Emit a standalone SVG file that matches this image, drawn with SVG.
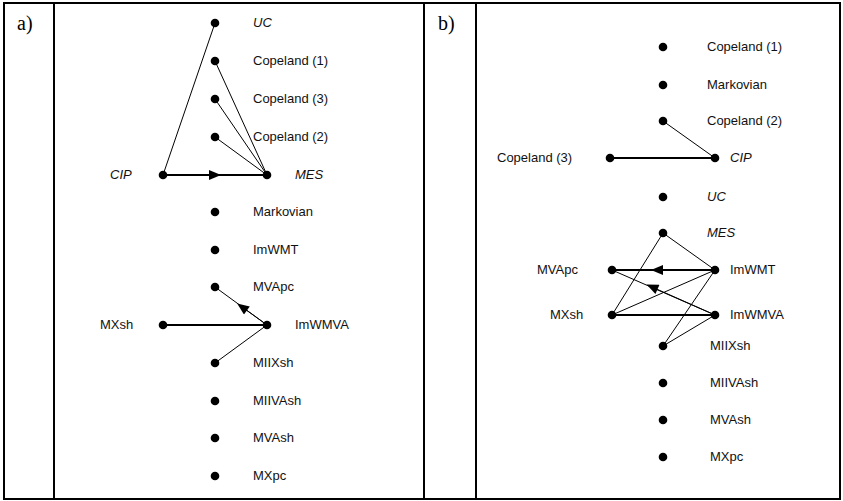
<svg xmlns="http://www.w3.org/2000/svg" width="843" height="501" viewBox="0 0 843 501">
<style>
.frame{stroke:#000;stroke-width:2;fill:none}
.lbl{font-family:"Liberation Sans",Arial,sans-serif;font-size:13px;fill:#111}
.it{font-style:italic}
.pl{font-family:"Liberation Serif","Times New Roman",serif;font-size:20px;fill:#000}
.dot{fill:#000}
.ln{stroke:#000;stroke-width:1;fill:none}
.th{stroke:#000;stroke-width:1.8;fill:none}
</style>
<defs>
<marker id="ah" viewBox="0 0 12 10" refX="6" refY="5" markerWidth="13" markerHeight="10" markerUnits="userSpaceOnUse" orient="auto">
<path d="M0,0 L12,5 L0,10 z" fill="#000"/>
</marker>
</defs>
<rect width="843" height="501" fill="#fff"/>
<g id="table">
<line class="frame" x1="3" y1="3" x2="841" y2="3"/>
<line class="frame" x1="3" y1="499" x2="841" y2="499"/>
<line class="frame" x1="4" y1="3" x2="4" y2="499"/>
<line class="frame" x1="54" y1="3" x2="54" y2="499"/>
<line class="frame" x1="424" y1="3" x2="424" y2="499"/>
<line class="frame" x1="476" y1="3" x2="476" y2="499"/>
<line class="frame" x1="840" y1="3" x2="840" y2="499"/>
<text class="pl" x="17" y="30">a)</text>
<text class="pl" x="438" y="30">b)</text>
</g>
<g id="connectors">
<line class="ln" x1="163" y1="175" x2="215" y2="23"/>
<line class="ln" x1="215" y1="61" x2="267" y2="175"/>
<line class="ln" x1="215" y1="99" x2="267" y2="175"/>
<line class="ln" x1="215" y1="137" x2="267" y2="175"/>
<line class="th" x1="163" y1="175" x2="267" y2="175"/>
<path class="th" d="M163,175 L215,175" marker-end="url(#ah)"/>
<line class="th" x1="163" y1="325" x2="267" y2="325"/>
<line class="ln" x1="267" y1="325" x2="215" y2="287"/>
<path class="ln" d="M267,325 L242,307" marker-end="url(#ah)"/>
<line class="ln" x1="267" y1="325" x2="215" y2="363"/>
<line class="ln" x1="663" y1="121" x2="715" y2="158"/>
<line class="th" x1="610" y1="158" x2="715" y2="158"/>
<line class="ln" x1="663" y1="233" x2="715" y2="270"/>
<line class="ln" x1="663" y1="233" x2="612" y2="315"/>
<line class="th" x1="612" y1="270" x2="715" y2="270"/>
<path class="th" d="M715,270 L657,270" marker-end="url(#ah)"/>
<line class="ln" x1="612" y1="315" x2="715" y2="270"/>
<line class="ln" x1="715" y1="270" x2="663" y2="346"/>
<line class="ln" x1="612" y1="270" x2="715" y2="315"/>
<path class="ln" d="M715,315 L652,287" marker-end="url(#ah)"/>
<line class="th" x1="612" y1="315" x2="715" y2="315"/>
<line class="ln" x1="715" y1="315" x2="663" y2="346"/>
</g>
<g id="a-UC"><circle class="dot" cx="215" cy="23" r="4.3"/><text class="lbl it" x="253" y="27">UC</text></g>
<g id="a-Copeland1"><circle class="dot" cx="215" cy="61" r="4.3"/><text class="lbl" x="253" y="65">Copeland (1)</text></g>
<g id="a-Copeland3"><circle class="dot" cx="215" cy="99" r="4.3"/><text class="lbl" x="253" y="103">Copeland (3)</text></g>
<g id="a-Copeland2"><circle class="dot" cx="215" cy="137" r="4.3"/><text class="lbl" x="253" y="141">Copeland (2)</text></g>
<g id="a-CIP"><circle class="dot" cx="163" cy="175" r="4.3"/><text class="lbl it" x="110" y="179">CIP</text></g>
<g id="a-MES"><circle class="dot" cx="267" cy="175" r="4.3"/><text class="lbl it" x="295" y="179">MES</text></g>
<g id="a-Markovian"><circle class="dot" cx="215" cy="212" r="4.3"/><text class="lbl" x="253" y="216">Markovian</text></g>
<g id="a-ImWMT"><circle class="dot" cx="215" cy="250" r="4.3"/><text class="lbl" x="253" y="254">ImWMT</text></g>
<g id="a-MVApc"><circle class="dot" cx="215" cy="287" r="4.3"/><text class="lbl" x="253" y="291">MVApc</text></g>
<g id="a-MXsh"><circle class="dot" cx="163" cy="325" r="4.3"/><text class="lbl" x="100" y="329">MXsh</text></g>
<g id="a-ImWMVA"><circle class="dot" cx="267" cy="325" r="4.3"/><text class="lbl" x="295" y="329">ImWMVA</text></g>
<g id="a-MIIXsh"><circle class="dot" cx="215" cy="363" r="4.3"/><text class="lbl" x="253" y="367">MIIXsh</text></g>
<g id="a-MIIVAsh"><circle class="dot" cx="215" cy="401" r="4.3"/><text class="lbl" x="253" y="405">MIIVAsh</text></g>
<g id="a-MVAsh"><circle class="dot" cx="215" cy="438" r="4.3"/><text class="lbl" x="253" y="442">MVAsh</text></g>
<g id="a-MXpc"><circle class="dot" cx="215" cy="476" r="4.3"/><text class="lbl" x="253" y="480">MXpc</text></g>
<g id="b-Copeland1"><circle class="dot" cx="663" cy="47" r="4.3"/><text class="lbl" x="707" y="51">Copeland (1)</text></g>
<g id="b-Markovian"><circle class="dot" cx="663" cy="85" r="4.3"/><text class="lbl" x="707" y="89">Markovian</text></g>
<g id="b-Copeland2"><circle class="dot" cx="663" cy="121" r="4.3"/><text class="lbl" x="707" y="125">Copeland (2)</text></g>
<g id="b-Copeland3"><circle class="dot" cx="610" cy="158" r="4.3"/><text class="lbl" x="497" y="162">Copeland (3)</text></g>
<g id="b-CIP"><circle class="dot" cx="715" cy="158" r="4.3"/><text class="lbl it" x="730" y="162">CIP</text></g>
<g id="b-UC"><circle class="dot" cx="663" cy="197" r="4.3"/><text class="lbl it" x="707" y="201">UC</text></g>
<g id="b-MES"><circle class="dot" cx="663" cy="233" r="4.3"/><text class="lbl it" x="707" y="237">MES</text></g>
<g id="b-MVApc"><circle class="dot" cx="612" cy="270" r="4.3"/><text class="lbl" x="537" y="274">MVApc</text></g>
<g id="b-ImWMT"><circle class="dot" cx="715" cy="270" r="4.3"/><text class="lbl" x="730" y="274">ImWMT</text></g>
<g id="b-MXsh"><circle class="dot" cx="612" cy="315" r="4.3"/><text class="lbl" x="550" y="319">MXsh</text></g>
<g id="b-ImWMVA"><circle class="dot" cx="715" cy="315" r="4.3"/><text class="lbl" x="730" y="319">ImWMVA</text></g>
<g id="b-MIIXsh"><circle class="dot" cx="663" cy="346" r="4.3"/><text class="lbl" x="710" y="350">MIIXsh</text></g>
<g id="b-MIIVAsh"><circle class="dot" cx="663" cy="383" r="4.3"/><text class="lbl" x="710" y="387">MIIVAsh</text></g>
<g id="b-MVAsh"><circle class="dot" cx="663" cy="420" r="4.3"/><text class="lbl" x="710" y="424">MVAsh</text></g>
<g id="b-MXpc"><circle class="dot" cx="663" cy="457" r="4.3"/><text class="lbl" x="710" y="461">MXpc</text></g>
</svg>
